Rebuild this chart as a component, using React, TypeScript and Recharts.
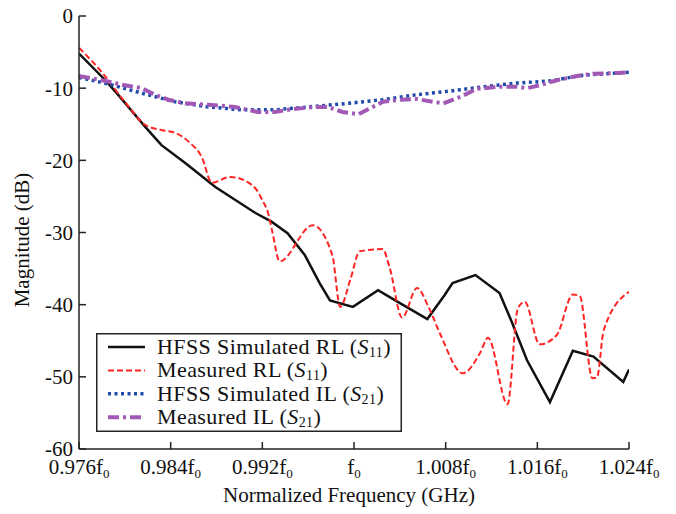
import React from "react";
import {
  LineChart,
  Line,
  XAxis,
  YAxis,
  Legend,
} from "recharts";

// x ticks, normalized frequency (x f0)
const freqTicks = [0.976, 0.984, 0.992, 1.0, 1.008, 1.016, 1.024];
const freqTickLabels = ["0.976", "0.984", "0.992", "", "1.008", "1.016", "1.024"];
const magTicks = [-60, -50, -40, -30, -20, -10, 0];

// HFSS simulated RL (S11)
const simRlFreq = [0.976, 0.9783, 0.9794, 0.9818, 0.9832, 0.9853, 0.9879, 0.9914, 0.9928, 0.9942, 0.9957, 0.997, 0.9979, 0.9999, 1.0021, 1.0036, 1.0064, 1.0079, 1.0086, 1.0106, 1.0127, 1.0138, 1.0151, 1.0171, 1.0191, 1.0209, 1.0235, 1.024];
const simRlDb = [-5.2, -8.9, -10.9, -15.4, -17.9, -20.4, -23.7, -27.3, -28.5, -30.1, -33.1, -37.0, -39.4, -40.3, -38.0, -39.4, -42.0, -38.7, -37.0, -35.9, -38.4, -42.5, -47.7, -53.5, -46.4, -47.2, -50.7, -49.0];

// measured RL (S11)
const measRlFreq = [0.976, 0.978, 0.98, 0.9818, 0.9832, 0.9844, 0.9857, 0.9867, 0.9876, 0.9892, 0.9908, 0.9915, 0.992, 0.9925, 0.9929, 0.9935, 0.9964, 0.9981, 0.9988, 0.9997, 1.0005, 1.0025, 1.0031, 1.0042, 1.0055, 1.0065, 1.0075, 1.0095, 1.011, 1.0117, 1.0134, 1.0143, 1.0149, 1.0162, 1.0177, 1.0191, 1.0197, 1.0208, 1.0212, 1.0218, 1.024];
const measRlDb = [-4.4, -7.8, -11.9, -15.1, -15.8, -16.2, -17.6, -19.5, -23.1, -22.3, -23.1, -24.1, -25.5, -27.3, -30.1, -34.0, -29.0, -33.1, -40.3, -36.4, -32.6, -32.3, -34.8, -41.8, -37.7, -40.3, -44.0, -49.5, -46.7, -44.6, -53.8, -40.5, -39.6, -45.5, -44.2, -38.6, -38.8, -50.2, -50.1, -43.5, -38.2];

// HFSS simulated IL (S21)
const simIlFreq = [0.976, 0.9785, 0.9815, 0.9844, 0.9873, 0.9902, 0.9931, 0.996, 0.9995, 1.0025, 1.0055, 1.0084, 1.0113, 1.0142, 1.0171, 1.02, 1.023, 1.024];
const simIlDb = [-8.5, -9.4, -10.7, -11.9, -12.6, -13.0, -13.0, -12.6, -12.1, -11.6, -10.9, -10.4, -9.8, -9.3, -9.0, -8.2, -7.9, -7.8];

// measured IL (S21)
const measIlFreq = [0.976, 0.978, 0.98, 0.9815, 0.9826, 0.9838, 0.9853, 0.9873, 0.9896, 0.9916, 0.9931, 0.9946, 0.9966, 0.9977, 0.999, 1.0004, 1.0014, 1.0025, 1.004, 1.0055, 1.0069, 1.0078, 1.0093, 1.0107, 1.0127, 1.0142, 1.0151, 1.0162, 1.0177, 1.0195, 1.0209, 1.023, 1.024];
const measIlDb = [-8.3, -8.9, -9.6, -10.0, -10.9, -11.6, -12.1, -12.3, -12.6, -13.3, -13.3, -12.9, -12.6, -12.6, -13.3, -13.6, -12.8, -11.9, -11.6, -11.5, -11.9, -12.1, -11.2, -10.1, -9.8, -9.8, -10.0, -9.6, -8.9, -8.3, -8.0, -7.9, -7.8];

const zip = (fs: number[], ds: number[]) => fs.map((f, i) => ({ f, db: ds[i] }));

const series = [
  { name: "HFSS Simulated RL", sub: "11", data: zip(simRlFreq, simRlDb), color: "#111111", width: 2.5, dash: undefined, type: "linear" },
  { name: "Measured RL", sub: "11", data: zip(measRlFreq, measRlDb), color: "#ff2424", width: 2, dash: "6 3", type: "monotone" },
  { name: "HFSS Simulated IL", sub: "21", data: zip(simIlFreq, simIlDb), color: "#1f4aa8", width: 3.5, dash: "3 3.5", type: "linear" },
  { name: "Measured IL", sub: "21", data: zip(measIlFreq, measIlDb), color: "#a259b5", width: 4, dash: "11 4 3 4", type: "linear" },
];

const FONT = "'Liberation Serif', 'Times New Roman', serif";

const FreqTick = (props: any) => {
  const { x, y, payload } = props;
  const i = freqTicks.indexOf(payload.value);
  const lab = i >= 0 ? freqTickLabels[i] : "";
  return (
    <text x={x} y={y} dy={15} textAnchor="middle" fontFamily={FONT} fontSize={21} fill="#111">
      {lab}f<tspan dy={4} fontSize={13}>0</tspan>
    </text>
  );
};

// legend drawn in svg so each row keeps to its own line box
const LegendBox = () => (
  <svg width={306} height={99} style={{ display: "block" }}>
    <rect x={0.75} y={0.75} width={304.5} height={97.5} fill="#fff" stroke="#222" strokeWidth={1.5} />
    {series.map((s, i) => {
      const cy = 14 + i * 23.4;
      return (
        <g key={s.name}>
          <line x1={12} y1={cy} x2={49} y2={cy} stroke={s.color} strokeWidth={s.width} strokeDasharray={s.dash} />
          <text x={61} y={cy + 7} fontFamily={FONT} fontSize={22} letterSpacing={0.4} fill="#111">
            {s.name} (<tspan fontStyle="italic">S</tspan>
            <tspan fontSize={14} dy={3}>{s.sub}</tspan>
            <tspan dy={-3}>)</tspan>
          </text>
        </g>
      );
    })}
  </svg>
);

export default function App() {
  return (
    <div style={{ position: "absolute", left: 0, top: 0, width: 676, height: 514, background: "#fff" }}>
      <LineChart width={676} height={514} margin={{ top: 16, right: 47, bottom: 0, left: 0 }}>
        <XAxis
          dataKey="f"
          type="number"
          domain={[0.976, 1.024]}
          ticks={freqTicks}
          allowDataOverflow
          height={65}
          tickSize={-7}
          tickMargin={17}
          tick={<FreqTick />}
          stroke="#222"
          strokeWidth={1.5}
          label={{
            content: () => (
              <text x={349} y={502} textAnchor="middle" fontFamily={FONT} fontSize={21} fill="#111">
                Normalized Frequency (GHz)
              </text>
            ),
          }}
        />
        <XAxis
          xAxisId="top"
          orientation="top"
          dataKey="f"
          type="number"
          domain={[0.976, 1.024]}
          ticks={freqTicks}
          height={0}
          tickSize={-7}
          tick={false}
          stroke="#222"
          strokeWidth={1.5}
        />
        <YAxis
          type="number"
          domain={[-60, 0]}
          ticks={magTicks}
          width={79}
          tickSize={-7}
          tickMargin={13}
          stroke="#222"
          strokeWidth={1.5}
          tick={{ fontFamily: FONT, fontSize: 21, fill: "#111" }}
          label={{
            content: () => (
              <text
                x={29}
                y={240}
                transform="rotate(-90, 29, 240)"
                textAnchor="middle"
                fontFamily={FONT}
                fontSize={21}
                fill="#111"
              >
                Magnitude (dB)
              </text>
            ),
          }}
        />
        <YAxis
          yAxisId="right"
          orientation="right"
          type="number"
          domain={[-60, 0]}
          ticks={magTicks}
          width={0}
          tickSize={-7}
          tick={false}
          stroke="#222"
          strokeWidth={1.5}
        />
        {series.map((s) => (
          <Line
            key={s.name}
            data={s.data}
            dataKey="db"
            name={s.name}
            type={s.type as any}
            stroke={s.color}
            strokeWidth={s.width}
            strokeDasharray={s.dash}
            dot={false}
            activeDot={false}
            isAnimationActive={false}
          />
        ))}
        <Legend
          layout="vertical"
          align="center"
          verticalAlign="middle"
          content={<LegendBox />}
          wrapperStyle={{ position: "absolute", left: 96, top: 333, width: 306, height: 99 }}
        />
      </LineChart>
    </div>
  );
}
